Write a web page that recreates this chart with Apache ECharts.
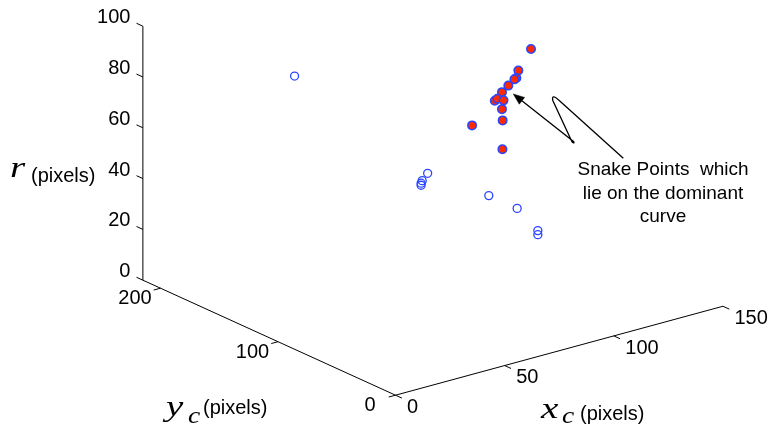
<!DOCTYPE html>
<html><head><meta charset="utf-8">
<script src="https://cdn.jsdelivr.net/npm/echarts@6/dist/echarts.min.js"></script>
<style>html,body{margin:0;padding:0;background:#fff}#c{width:772px;height:430px}</style>
</head><body><div id="c"></div>
<script>
// ---- data (x_c, y_c, r in pixels) ----
const snakeXc = [115.9, 110.1, 109.2, 108.3, 105.5, 102.6, 99.3, 100.5, 103.3, 102.6, 102.9, 88.9, 102.8];
const snakeYc = [100, 100, 100, 100, 100, 100, 100, 100, 100, 100, 100, 100, 100];
const snakeR  = [88.2, 81.1, 78.3, 78.0, 76.2, 74.3, 71.7, 72.2, 70.9, 67.6, 63.1, 64.4, 51.8];

const otherXc = [34.5, 84.7, 82.2, 81.7, 81.7, 85.8, 93.4, 97.5, 97.5];
const otherYc = [150, 130, 130, 130, 130, 80, 70, 60, 60];
const otherR  = [86.0, 40.2, 37.9, 37.0, 36.2, 41.7, 37.0, 29.4, 27.8];

const xTicks = [0, 50, 100, 150];
const yTicks = [0, 100, 200];
const rTicks = [0, 20, 40, 60, 80, 100];
const xLim = [0, 150], yLim = [0, 215], rLim = [0, 100];

const annotationLines = ['Snake Points  which', 'lie on the dominant', 'curve'];

// ---- view (orthographic projection of the 3-D axes box) ----
const O = [395.5, 395.2], EX = [2.183, -0.593], EY = [-1.175, -0.535], ER = [0, -2.54];
function proj(x, y, r) {
  return [O[0] + EX[0]*x + EY[0]*y + ER[0]*r, O[1] + EX[1]*x + EY[1]*y + ER[1]*r];
}
function unit(v){const l=Math.hypot(v[0],v[1]);return [v[0]/l,v[1]/l];}
const TICK = 7;
const FONT = '"Liberation Sans", Arial, Helvetica, sans-serif';
const MATH = '"Liberation Serif", "Times New Roman", serif';

function tickSeries(data, dir, lab) {
  return {
    type: 'custom', coordinateSystem: 'cartesian2d', silent: true, clip: false, z: 2,
    encode: {x: 0, y: 1},
    data: data,
    renderItem: function (params, api) {
      const p = api.coord([api.value(0), api.value(1)]);
      const v = api.value(2);
      return {type: 'group', children: [
        {type: 'line', shape: {x1: p[0], y1: p[1], x2: p[0] + dir[0]*TICK, y2: p[1] + dir[1]*TICK},
         style: {stroke: '#000', lineWidth: 1}},
        {type: 'text', style: {text: String(v), x: p[0] + lab.dx, y: p[1] + lab.dy,
          align: lab.align, verticalAlign: 'middle', font: '20px ' + FONT, fill: '#000'}}
      ]};
    }
  };
}

const xDir = unit([-EY[0], -EY[1]]);
const yDir = unit([-EX[0], -EX[1]]);
const rDir = unit([EY[0], EY[1]]);

const xTickData = xTicks.map(v => { const p = proj(v, 0, 0); return [p[0], p[1], v]; });
const yTickData = yTicks.map(v => { const p = proj(0, v, 0); return [p[0], p[1], v]; });
const rTickData = rTicks.map(v => { const p = proj(0, yLim[1], v); return [p[0], p[1], v]; });

function axisLine(a, b) {
  return {type: 'line', data: [a, b], symbol: 'none', silent: true, z: 1, animation: false,
    lineStyle: {color: '#000', width: 1}};
}

const otherData = otherXc.map((x, i) => proj(x, otherYc[i], otherR[i]));
const snakeData = snakeXc.map((x, i) => proj(x, snakeYc[i], snakeR[i]));

// arrow geometry
const tip = [513.3, 94];
const from = [573.5, 141.5];
const u = unit([tip[0]-from[0], tip[1]-from[1]]);
const n = [-u[1], u[0]];
const HL = 11, HW = 4.3;
const base = [tip[0] - HL*u[0], tip[1] - HL*u[1]];
const arrowPath = 'M623.3 158.3 L559.5 100.8 C555 96.5 551.5 95 552.8 100.5 L571.5 140.8 C572.5 143.5 575 143.5 573.5 141.5 L' + base[0].toFixed(1) + ' ' + base[1].toFixed(1);

function mathText(t, x, y, size, sx) {
  return {type: 'text', x: x, y: y, scaleX: sx, scaleY: 1,
    style: {text: t, font: 'italic ' + size + 'px ' + MATH, fill: '#000', verticalAlign: 'middle', align: 'left'}};
}
function plainText(t, x, y, size, align) {
  return {type: 'text', x: x, y: y,
    style: {text: t, font: size + 'px ' + FONT, fill: '#000', verticalAlign: 'middle', align: align || 'left'}};
}

const chart = echarts.init(document.getElementById('c'), null, {renderer: 'canvas'});
chart.setOption({
  animation: false,
  backgroundColor: '#fff',
  grid: {left: 0, right: 0, top: 0, bottom: 0},
  xAxis: {type: 'value', min: 0, max: 772, show: false},
  yAxis: {type: 'value', min: 0, max: 430, inverse: true, show: false},
  series: [
    axisLine(proj(xLim[0], 0, 0), proj(xLim[1], 0, 0)),
    axisLine(proj(0, yLim[0], 0), proj(0, yLim[1], 0)),
    axisLine(proj(0, yLim[1], rLim[0]), proj(0, yLim[1], rLim[1])),
    tickSeries(xTickData, xDir, {dx: 11.5, dy: 12.2, align: 'left'}),
    tickSeries(yTickData, yDir, {dx: -25.5, dy: 10.5, align: 'center'}),
    tickSeries(rTickData, rDir, {dx: -12.5, dy: -8.5, align: 'right'}),
    {type: 'scatter', data: otherData, symbol: 'circle', symbolSize: 8, z: 3, silent: true,
      itemStyle: {color: 'rgba(0,0,0,0)', borderColor: '#2a45ff', borderWidth: 1.3, opacity: 1}},
    {type: 'scatter', data: snakeData, symbol: 'circle', symbolSize: 8.5, z: 4, silent: true,
      itemStyle: {color: '#ff2a00', borderColor: '#2a45ff', borderWidth: 1.5, opacity: 1}},
    {type: 'custom', coordinateSystem: 'cartesian2d', silent: true, clip: false, z: 5,
      encode: {x: 0, y: 1}, data: [[0, 0]],
      renderItem: function () {
        return {type: 'group', children: [
          {type: 'path', shape: {pathData: arrowPath}, style: {stroke: '#000', lineWidth: 1.3, fill: null}},
          {type: 'polygon', shape: {points: [tip, [base[0] + HW*n[0], base[1] + HW*n[1]], [base[0] - HW*n[0], base[1] - HW*n[1]]]},
            style: {fill: '#000', stroke: '#000', lineWidth: 0.5}}
        ]};
      }}
  ],
  graphic: [
    // r axis title
    mathText('r', 10, 169.5, 30, 1.3),
    plainText('(pixels)', 31, 176, 20),
    // y_c axis title
    mathText('y', 166, 408, 30, 1.3),
    mathText('c', 188, 417, 24, 1.15),
    plainText('(pixels)', 203, 408, 20),
    // x_c axis title
    mathText('x', 541, 410, 30, 1.3),
    mathText('c', 562, 417, 24, 1.15),
    plainText('(pixels)', 580, 414, 20),
    // annotation text
    plainText(annotationLines[0], 663, 170.1, 19, 'center'),
    plainText(annotationLines[1], 663, 193.4, 19, 'center'),
    plainText(annotationLines[2], 663, 216.6, 19, 'center')
  ]
});
</script>
</body></html>
